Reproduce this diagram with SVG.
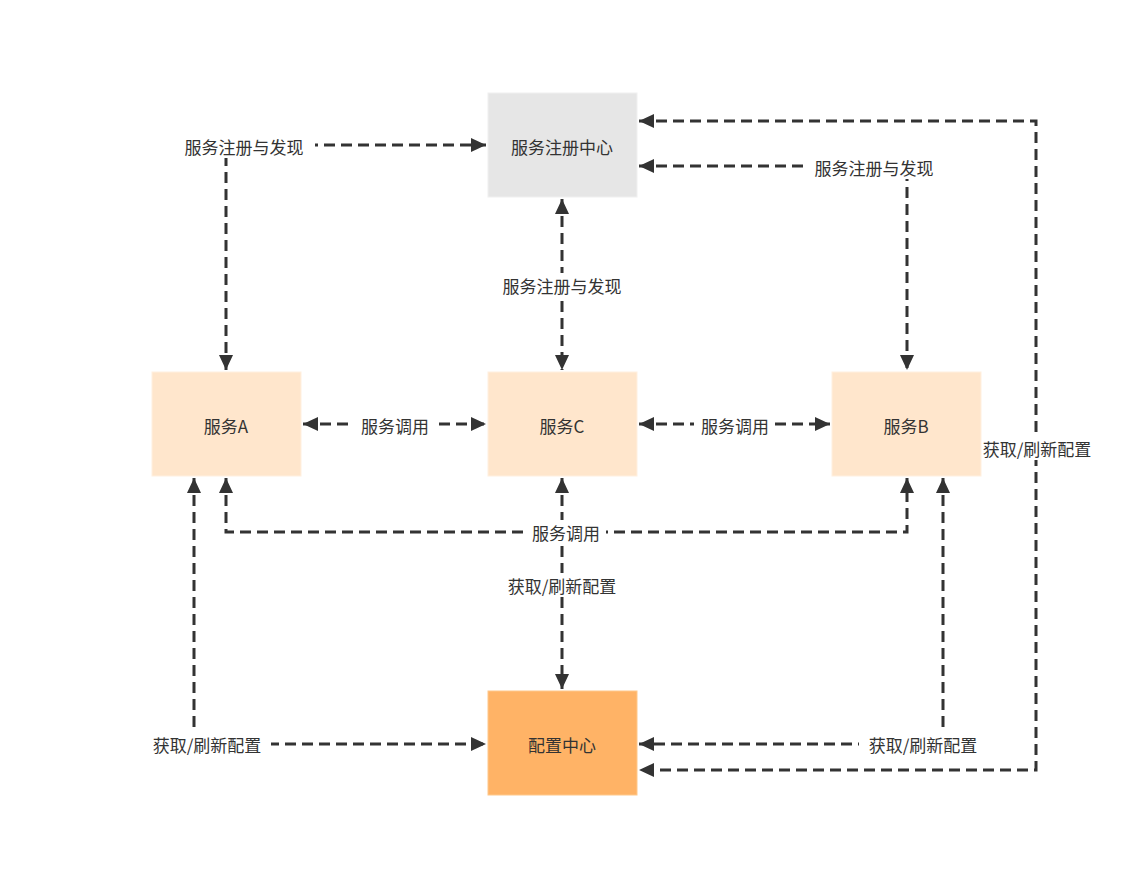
<svg xmlns="http://www.w3.org/2000/svg" width="1130" height="890" viewBox="0 0 1130 890">
<style>
.n{stroke-width:1}
.t{font-family:"Noto Sans CJK SC","Liberation Sans",sans-serif;font-size:17px;fill:#333;text-anchor:middle;dominant-baseline:central}
.l{font-family:"Noto Sans CJK SC","Liberation Sans",sans-serif;font-size:17px;fill:#333;text-anchor:middle;dominant-baseline:central}
.c{fill:none;stroke:#333;stroke-width:3;stroke-dasharray:11 6;marker-start:url(#a);marker-end:url(#a)}
.bg{fill:#fff}
</style>
<defs>
<marker id="a" markerUnits="userSpaceOnUse" markerWidth="16" markerHeight="14" refX="15" refY="7" orient="auto-start-reverse"><path d="M0,0 L15,7 L0,14 Z" fill="#333"/></marker>
</defs>
<rect width="1130" height="890" fill="#fff"/>
<g id="connectors">
<path class="c" d="M226,370 V145 H486"/>
<path class="c" d="M639,166 H907 V370"/>
<path class="c" d="M562,199 V370"/>
<path class="c" d="M303,424 H486"/>
<path class="c" d="M639,424 H830"/>
<path class="c" d="M226,478 V532 H907 V478"/>
<path class="c" d="M562,478 V689"/>
<path class="c" d="M194,478 V744 H486"/>
<path class="c" d="M943,478 V744 H639"/>
<path class="c" d="M639,121 H1036 V770 H639"/>
<rect class="bg" x="173" y="134" width="142" height="24"/><text class="l" x="244" y="146">服务注册与发现</text>
<rect class="bg" x="803" y="155" width="142" height="24"/><text class="l" x="874" y="167">服务注册与发现</text>
<rect class="bg" x="491" y="273" width="142" height="24"/><text class="l" x="562" y="285">服务注册与发现</text>
<rect class="bg" x="354" y="413" width="80" height="24"/><text class="l" x="395" y="425">服务调用</text>
<rect class="bg" x="694" y="413" width="80" height="24"/><text class="l" x="735" y="425">服务调用</text>
<rect class="bg" x="526" y="520" width="80" height="24"/><text class="l" x="566" y="532">服务调用</text>
<rect class="bg" x="499" y="573" width="126" height="24"/><text class="l" x="562" y="585">获取/刷新配置</text>
<rect class="bg" x="143" y="732" width="128" height="24"/><text class="l" x="207" y="744">获取/刷新配置</text>
<rect class="bg" x="859" y="732" width="128" height="24"/><text class="l" x="923" y="744">获取/刷新配置</text>
<rect class="bg" x="974" y="436" width="126" height="24"/><text class="l" x="1037" y="448">获取/刷新配置</text>
</g>
<g id="registry"><rect x="488" y="93" width="149" height="104" fill="#e6e6e6" stroke="#f0f0f0"/><text class="t" x="562" y="146">服务注册中心</text></g>
<g id="serviceA"><rect x="152" y="372" width="149" height="104" fill="#ffe6cc" stroke="#fff0e0"/><text class="t" x="226" y="425">服务A</text></g>
<g id="serviceC"><rect x="488" y="372" width="149" height="104" fill="#ffe6cc" stroke="#fff0e0"/><text class="t" x="562" y="425">服务C</text></g>
<g id="serviceB"><rect x="832" y="372" width="149" height="104" fill="#ffe6cc" stroke="#fff0e0"/><text class="t" x="906" y="425">服务B</text></g>
<g id="config"><rect x="488" y="691" width="149" height="104" fill="#ffb366" stroke="#ffc88a"/><text class="t" x="562" y="744">配置中心</text></g>
</svg>
